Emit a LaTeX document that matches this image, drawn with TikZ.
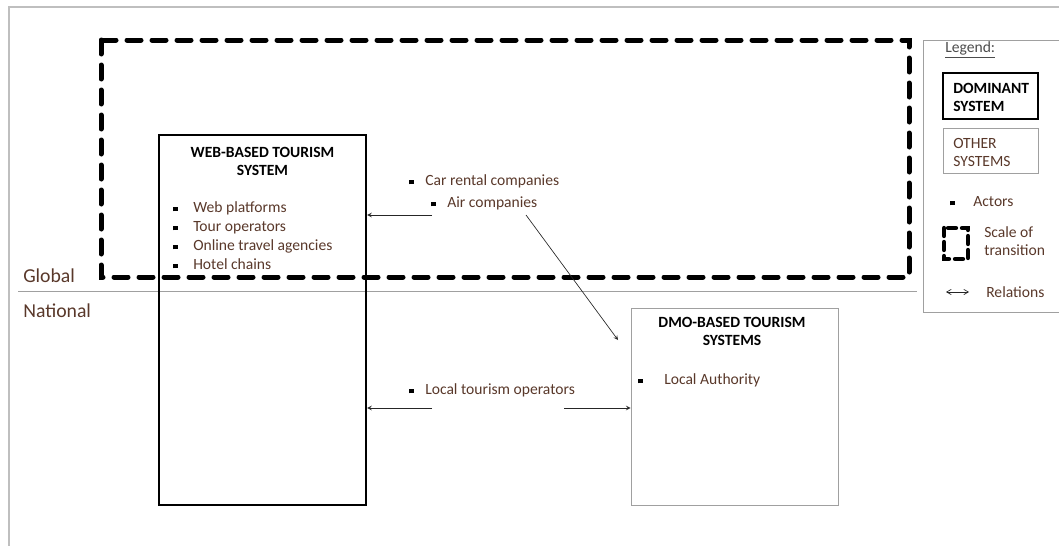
\documentclass[tikz,border=0pt]{standalone}
\usepackage{fontspec}
\setmainfont{Carlito}
\usepackage{xcolor}
\usetikzlibrary{arrows, positioning}

\definecolor{textbrown}{RGB}{89,56,42}
\definecolor{framegray}{RGB}{191,191,191}
\definecolor{boxgray}{RGB}{160,160,160}
\newcommand{\actor}[1]{\makebox[#1][l]{\textcolor{black}{\rule[1.1pt]{3.4pt}{3.4pt}}}}

\begin{document}
\begin{tikzpicture}[x=0.75pt, y=-0.75pt, font=\fontsize{11.7}{13.5}\selectfont]
\tikzstyle{domsys} = [rectangle, draw=black, line width=1.8pt, inner sep=0pt]
\tikzstyle{othersys} = [rectangle, draw=boxgray, line width=0.7pt, inner sep=0pt]
\tikzstyle{systitle} = [align=center, inner sep=0pt, font=\fontsize{11.7}{13.5}\selectfont\bfseries]
\tikzstyle{actorline} = [anchor=west, inner sep=0pt, yshift=-1.5pt, text=textbrown, text height=1.5ex, text depth=.3ex]
\tikzstyle{keytext} = [anchor=west, inner sep=0pt, align=left, text=textbrown]
\tikzstyle{level} = [anchor=west, inner sep=0pt, text=textbrown, font=\fontsize{14.8}{17}\selectfont]
\tikzstyle{transition} = [line width=3.75pt, line cap=round, dash pattern=on 10.5pt off 8.25pt]
\tikzstyle{arrow} = [->, >=stealth, draw=black!85, line width=0.5pt]

\useasboundingbox (0,0) rectangle (1059,546);

% outer frame and levels
\draw [framegray, line width=1.5pt] (1059,7) -- (9,7) -- (9,546);
\draw [boxgray, line width=0.75pt] (18,291) -- (917,291);
\node (global) [level] at (23,276) {Global};
\node (national) [level] at (23,311) {National};

% scale of transition
\draw [transition] (101,40) rectangle (909,277);

% web-based system
\node (web) [domsys, minimum width=155.25pt, minimum height=277.5pt] at (262.5,320) {};
\node (webtitle) [systitle] at (262.5,161) {WEB-BASED TOURISM\\SYSTEM};
\node (webplat) [actorline] at (173,207) {\actor{15pt}Web platforms};
\node (touroper) [actorline] at (173,226) {\actor{15pt}Tour operators};
\node (ota) [actorline] at (173,245) {\actor{15pt}Online travel agencies};
\node (hotels) [actorline] at (173,264) {\actor{15pt}Hotel chains};

% dmo-based systems
\node (dmo) [othersys, minimum width=155.25pt, minimum height=147.75pt] at (734.5,406.5) {};
\node (dmotitle) [systitle] at (732,331.5) {DMO-BASED TOURISM\\SYSTEMS};
\node (localauth) [actorline] at (638,379) {\actor{19.5pt}Local Authority};

% actors in between
\node (carrental) [actorline] at (409,180) {\actor{12pt}Car rental companies};
\node (aircomp) [actorline] at (431,202) {\actor{12pt}Air companies};
\node (localops) [actorline] at (409,389) {\actor{12pt}Local tourism operators};

\coordinate (airout) at (432,215);
\coordinate (airdiag) at (526,215);
\coordinate (dmoin) at (618,340);
\coordinate (localL) at (432,408);
\coordinate (localR) at (564,408);

\draw [arrow] (airout) -- (web.east |- airout);
\draw [arrow] (airdiag) -- (dmoin);
\draw [arrow] (localL) -- (web.east |- localL);
\draw [arrow] (localR) -- (dmo.west |- localR);

% legend
\node (legend) [othersys, minimum width=102pt, minimum height=204pt] at (991,176) {};
\node (legendtitle) [anchor=west, inner sep=0pt, text=black!70] at (945,50) {\underline{Legend:}};
\node (domkey) [domsys, line width=2.2pt, minimum width=71.25pt, minimum height=34.5pt] at (990.5,96) {};
\node (domtxt) [keytext, text=black, font=\fontsize{11.7}{13.5}\selectfont\bfseries] at (953,97) {DOMINANT\\SYSTEM};
\node (otherkey) [othersys, minimum width=71.25pt, minimum height=33.75pt] at (990.5,150.5) {};
\node (othertxt) [keytext] at (953,152) {OTHER\\SYSTEMS};
\node (actorkey) [actorline] at (950,201) {\actor{17.25pt}Actors};
\draw [transition, line width=3.2pt, dash pattern=on 6pt off 4.5pt] (944,228) rectangle (968,259);
\node (scaletxt) [keytext] at (984,241.5) {Scale of\\transition};
\coordinate (relL) at (946,292);
\coordinate (relR) at (969,292);
\draw [<->, >=angle 60, draw=black!85, line width=0.5pt] (relL) -- (relR);
\node (reltxt) [keytext] at (986,292) {Relations};
\end{tikzpicture}
\end{document}
